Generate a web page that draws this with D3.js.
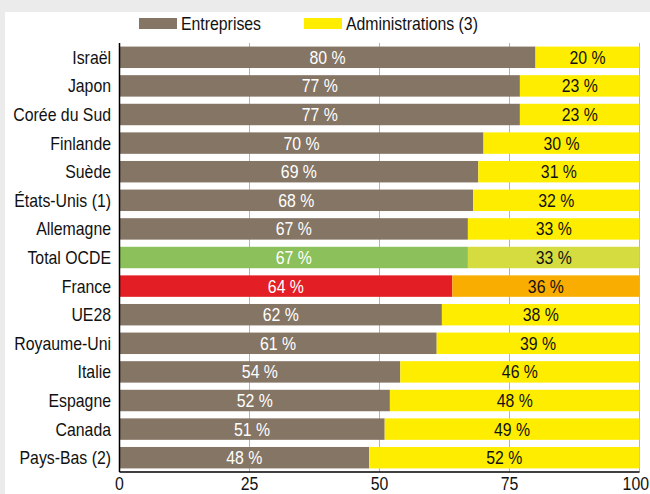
<!DOCTYPE html>
<html><head><meta charset="utf-8">
<script src="https://cdn.jsdelivr.net/npm/d3@7"></script>
<style>
html,body{margin:0;padding:0;background:#ebebeb;}
svg{display:block;}
text{font-family:"Liberation Sans",Arial,sans-serif;}
</style></head>
<body>
<svg id="c" width="650" height="494"></svg>
<script>
const categories = ["Israël","Japon","Corée du Sud","Finlande","Suède","États-Unis (1)","Allemagne","Total OCDE","France","UE28","Royaume-Uni","Italie","Espagne","Canada","Pays-Bas (2)"];
const entreprises = [80,77,77,70,69,68,67,67,64,62,61,54,52,51,48];
const administrations = [20,23,23,30,31,32,33,33,36,38,39,46,48,49,52];
const seriesNames = ["Entreprises","Administrations (3)"];
const xTicks = [0,25,50,75,100];

const colors = {
  ent: "#857565", adm: "#ffed00",
  "Total OCDE": ["#8bc05a","#d5dc3f"],
  "France": ["#e31e24","#f9ad00"]
};
const SX = 0.88; // narrow font emulation
const FS = 18;

function place(sel, fx, fy){
  sel.attr("transform",(d,i)=>`translate(${fx(d,i)},${fy(d,i)}) scale(${SX},1)`);
}

const svg = d3.select("#c");
svg.append("rect").attr("x",5).attr("y",12).attr("width",645).attr("height",482).attr("fill","#fff");

const x = d3.scaleLinear().domain([0,100]).range([119.5,639.5]);
const y = d3.scaleBand().domain(categories).range([43,472]).paddingInner(0.25).paddingOuter(0.125);

// grid
svg.append("g").selectAll("line").data(xTicks.filter(t=>t>0)).join("line")
  .attr("x1",d=>x(d)).attr("x2",d=>x(d)).attr("y1",43).attr("y2",472)
  .attr("stroke","#b4b4b4").attr("stroke-width",1);

const rows = categories.map((c,i)=>({c, e:entreprises[i], a:administrations[i]}));
const g = svg.append("g");
g.selectAll("rect.e").data(rows).join("rect").attr("class","e")
  .attr("x",x(0)).attr("y",d=>y(d.c)).attr("height",y.bandwidth())
  .attr("width",d=>x(d.e)-x(0))
  .attr("fill",d=>colors[d.c]?colors[d.c][0]:colors.ent);
g.selectAll("rect.a").data(rows).join("rect").attr("class","a")
  .attr("x",d=>x(d.e)).attr("y",d=>y(d.c)).attr("height",y.bandwidth())
  .attr("width",d=>x(d.e+d.a)-x(d.e))
  .attr("fill",d=>colors[d.c]?colors[d.c][1]:colors.adm);

g.selectAll("text.e").data(rows).join("text").attr("class","e")
  .call(place, d=>(x(0)+x(d.e))/2, d=>y(d.c)+y.bandwidth()/2+6.5)
  .attr("text-anchor","middle").attr("fill","#fff").attr("font-size",FS)
  .text(d=>d.e+" %");
g.selectAll("text.a").data(rows).join("text").attr("class","a")
  .call(place, d=>(x(d.e)+x(d.e+d.a))/2, d=>y(d.c)+y.bandwidth()/2+6.5)
  .attr("text-anchor","middle").attr("fill","#111").attr("font-size",FS)
  .text(d=>d.a+" %");

// category labels
svg.append("g").selectAll("text").data(categories).join("text")
  .call(place, ()=>111, d=>y(d)+y.bandwidth()/2+6.5)
  .attr("text-anchor","end").attr("fill","#111").attr("font-size",FS)
  .text(d=>d);

// axes lines
svg.append("line").attr("x1",x(0)).attr("x2",x(0)).attr("y1",43).attr("y2",472).attr("stroke","#000").attr("stroke-width",1.5);
svg.append("line").attr("x1",x(0)).attr("x2",x(100)).attr("y1",472).attr("y2",472).attr("stroke","#000").attr("stroke-width",1.5);
const last = xTicks[xTicks.length-1];
svg.append("g").selectAll("text").data(xTicks).join("text")
  .call(place, d=>d===last ? 649 : x(d), ()=>490)
  .attr("text-anchor",d=>d===last ? "end" : "middle").attr("fill","#111").attr("font-size",FS)
  .text(d=>d);

// legend
const leg = svg.append("g");
const legItems = [{n:seriesNames[0],c:colors.ent,x:139},{n:seriesNames[1],c:colors.adm,x:304}];
leg.selectAll("rect").data(legItems).join("rect")
  .attr("x",d=>d.x).attr("y",18).attr("width",38).attr("height",11).attr("fill",d=>d.c);
leg.selectAll("text").data(legItems).join("text")
  .call(place, d=>d.x+42, ()=>30)
  .attr("font-size",FS).attr("fill","#111").text(d=>d.n);
</script>
</body></html>
